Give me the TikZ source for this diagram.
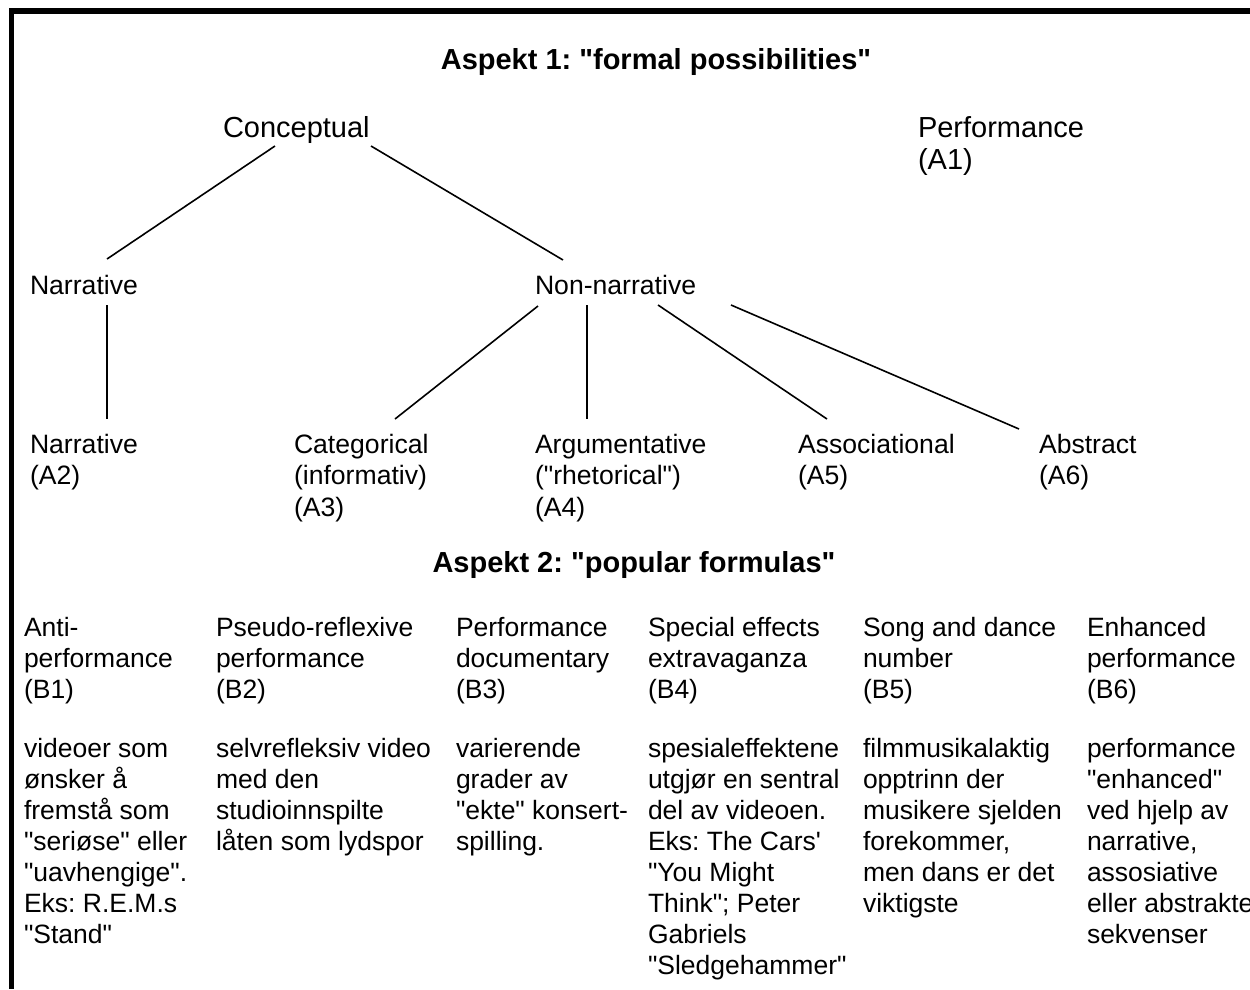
\documentclass[tikz,border=0pt]{standalone}
\usepackage{fontspec}
\setmainfont{Liberation Sans}
\usetikzlibrary{calc}
\frenchspacing
\newcommand{\stk}[1]{\begin{tabular}[t]{@{}l@{}}#1\end{tabular}}
\newcommand{\qq}{\textquotedbl}
\tikzset{
  lbl/.style={anchor=base west, inner sep=0pt, outer sep=0pt,
    font=\fontsize{26.6}{31.5}\selectfont\frenchspacing},
  big/.style={anchor=base west, inner sep=0pt, outer sep=0pt,
    font=\fontsize{29}{32}\selectfont\frenchspacing},
  col/.style={anchor=base west, inner sep=0pt, outer sep=0pt,
    font=\fontsize{26.5}{31}\selectfont\frenchspacing},
  ttl/.style={anchor=base, inner sep=0pt, outer sep=0pt,
    font=\fontsize{29}{31}\selectfont\bfseries\frenchspacing},
  conn/.style={line width=1.6pt}
}
\begin{document}
\begin{tikzpicture}[x=1pt,y=-1pt]
\useasboundingbox (0,0) rectangle (1250,989);
\fill[white] (0,0) rectangle (1250,989);
% frame
\fill[black] (9,8) rectangle (1250,14);
\fill[black] (9,8) rectangle (14,989);
% titles
\node[ttl] (t1) at (656,69) {Aspekt 1: \qq formal possibilities\qq};
\node[ttl] (t2) at (634,572) {Aspekt 2: \qq popular formulas\qq};
% tree
\node[big] (conc) at (223,137) {Conceptual};
\node[big] (perf) at (918,137) {\stk{Performance\\(A1)}};
\node[lbl] (narr) at (30,294) {Narrative};
\node[lbl] (nonn) at (535,294) {Non-narrative};
\node[lbl] (a2) at (30,453) {\stk{Narrative\\(A2)}};
\node[lbl] (a3) at (294,453) {\stk{Categorical\\(informativ)\\(A3)}};
\node[lbl] (a4) at (535,453) {\stk{Argumentative\\(\qq rhetorical\qq)\\(A4)}};
\node[lbl] (a5) at (798,453) {\stk{Associational\\(A5)}};
\node[lbl] (a6) at (1039,453) {\stk{Abstract\\(A6)}};
% connectors
\draw[conn] ($(conc.base west)+(52,9)$) -- ($(narr.base west)+(77,-35)$);
\draw[conn] ($(conc.base west)+(148,9)$) -- ($(nonn.base west)+(28,-34)$);
\draw[conn] ($(narr.base west)+(77,11)$) -- ($(a2.base west)+(77,-34)$);
\draw[conn] ($(nonn.base west)+(3,12)$) -- ($(a3.base west)+(101,-34)$);
\draw[conn] ($(nonn.base west)+(52,11)$) -- ($(a4.base west)+(52,-34)$);
\draw[conn] ($(nonn.base west)+(123,11)$) -- ($(a5.base west)+(29,-34)$);
\draw[conn] ($(nonn.base west)+(196,11)$) -- ($(a6.base west)+(-20,-24)$);
% aspect 2 headers
\node[col] (b1) at (24,636) {\stk{Anti-\\performance\\(B1)}};
\node[col] (b2) at (216,636) {\stk{Pseudo-reflexive\\performance\\(B2)}};
\node[col] (b3) at (456,636) {\stk{Performance\\documentary\\(B3)}};
\node[col] (b4) at (648,636) {\stk{Special effects\\extravaganza\\(B4)}};
\node[col] (b5) at (863,636) {\stk{Song and dance\\number\\(B5)}};
\node[col] (b6) at (1087,636) {\stk{Enhanced\\performance\\(B6)}};
% descriptions
\node[col] (d1) at (24,757) {\stk{videoer som\\ønsker å\\fremstå som\\\qq seriøse\qq{} eller\\\qq uavhengige\qq.\\Eks: R.E.M.s\\\qq Stand\qq}};
\node[col] (d2) at (216,757) {\stk{selvrefleksiv video\\med den\\studioinnspilte\\låten som lydspor}};
\node[col] (d3) at (456,757) {\stk{varierende\\grader av\\\qq ekte\qq{} konsert-\\spilling.}};
\node[col] (d4) at (648,757) {\stk{spesialeffektene\\utgjør en sentral\\del av videoen.\\Eks: The Cars\textquotesingle\\\qq You Might\\Think\qq; Peter\\Gabriels\\\qq Sledgehammer\qq}};
\node[col] (d5) at (863,757) {\stk{filmmusikalaktig\\opptrinn der\\musikere sjelden\\forekommer,\\men dans er det\\viktigste}};
\node[col] (d6) at (1087,757) {\stk{performance\\\qq enhanced\qq\\ved hjelp av\\narrative,\\assosiative\\eller abstrakte\\sekvenser}};
\end{tikzpicture}
\end{document}
